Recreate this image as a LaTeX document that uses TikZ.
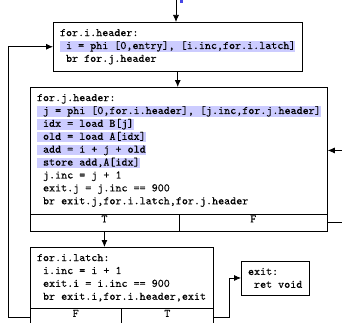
\documentclass[tikz,border=0pt]{standalone}
\usepackage{fontspec}
\usetikzlibrary{arrows.meta,fit,calc}

\newfontfamily\codefamily{lmmono10-regular.otf}[FakeBold=0.2]

\definecolor{hlblue}{RGB}{204,204,255}
\definecolor{tagblue}{RGB}{70,70,230}

% highlighted instruction line
\newcommand{\hlline}[1]{{\setlength{\fboxsep}{0pt}\colorbox{hlblue}{\rule[-2pt]{0pt}{9.6pt}#1}}}

\tikzset{
  codefont/.style={font=\fontsize{11.5pt}{12.9pt}\selectfont\codefamily},
  block/.style={codefont, draw, line width=0.75pt, inner xsep=7pt, inner ysep=7pt,
    outer sep=0pt, align=left, anchor=north west},
  cell/.style={codefont, draw, line width=0.75pt, inner sep=0pt, outer sep=0pt},
  flow/.style={line width=0.75pt, -{Latex[length=7pt,width=6pt]}},
}

\begin{document}
\begin{tikzpicture}[x=1pt,y=1pt]
\clip (0,0) rectangle (342,322);

% basic blocks
\node[block] (ihdr) at (53,300)
  {for.i.header:\\
   \hlline{\ i = phi [0,entry], [i.inc,for.i.latch]}\\
   \ br for.j.header};

\node[block] (jhdr) at (30,235)
  {for.j.header:\\
   \hlline{\ j = phi [0,for.i.header], [j.inc,for.j.header]}\\
   \hlline{\ idx = load B[j]}\\
   \hlline{\ old = load A[idx]}\\
   \hlline{\ add = i + j + old}\\
   \hlline{\ store add,A[idx]}\\
   \ j.inc = j + 1\\
   \ exit.j = j.inc == 900\\
   \ br exit.j,for.i.latch,for.j.header};

\coordinate (jlow) at ($(jhdr.south)+(0,-17)$);
\coordinate (jlowE) at ($(jhdr.south east)+(0,-17)$);
\node[cell, fit={(jhdr.south west) (jlow)}] (jT) {T};
\node[cell, fit={(jhdr.south) (jlowE)}] (jF) {F};

\node[block] (ilatch) at (30,75)
  {for.i.latch:\\
   \ i.inc = i + 1\\
   \ exit.i = i.inc == 900\\
   \ br exit.i,for.i.header,exit};

\coordinate (ilow) at ($(ilatch.south)+(0,-17)$);
\coordinate (ilowE) at ($(ilatch.south east)+(0,-17)$);
\node[cell, fit={(ilatch.south west) (ilow)}] (iF) {F};
\node[cell, fit={(ilatch.south) (ilowE)}] (iT) {T};

\node[block] (exitb) at (241,61)
  {exit:\\
   \ ret void};

% incoming edge from the entry block
\coordinate (entry) at (176,330);
\fill[tagblue] (180,322) rectangle (182.5,319.3);
\draw[flow] (entry) -- (entry |- ihdr.north);

% control flow edges
\draw[flow] (ihdr.south) -- (ihdr.south |- jhdr.north);
\draw[flow] (jT.south) -- (jT.south |- ilatch.north);
\draw[flow] (jF.east) -- ++(30,0) |- (jhdr.east);
\draw[flow] (iF.west) -- ++(-22,0) |- (ihdr.west);
\draw[flow] (iT.east) -- ++(16,0) |- (exitb.west);

\end{tikzpicture}
\end{document}
